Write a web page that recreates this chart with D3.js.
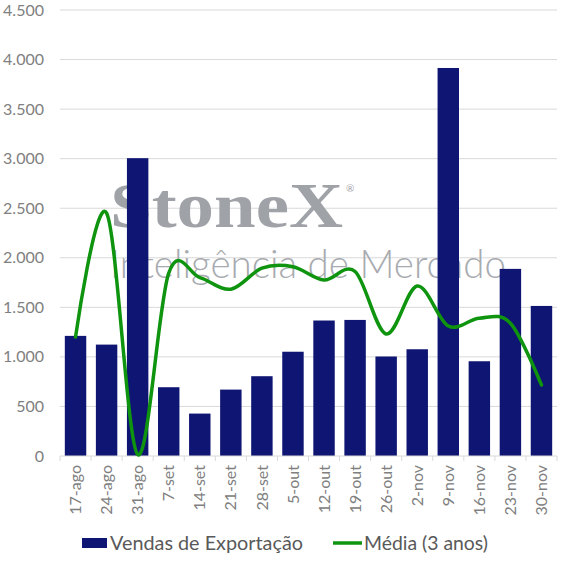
<!DOCTYPE html>
<html>
<head>
<meta charset="utf-8">
<script src="https://cdn.jsdelivr.net/npm/d3@7"></script>
<style>
  body { margin: 0; background: #fff; }
</style>
</head>
<body>
<script>
let width = 567,
  height = 567;

// data
const categories = ["17-ago", "24-ago", "31-ago", "7-set", "14-set", "21-set", "28-set", "5-out",
  "12-out", "19-out", "26-out", "2-nov", "9-nov", "16-nov", "23-nov", "30-nov"];
const vendas = [1212, 1124, 3005, 694, 428, 670, 805, 1052, 1367, 1373, 1004, 1077, 3915, 956, 1888, 1514];
const media = [1200, 2450, 15, 1845, 1800, 1683, 1895, 1910, 1776, 1862, 1231, 1715, 1312, 1390, 1340, 716];
const yTicks = [0, 500, 1000, 1500, 2000, 2500, 3000, 3500, 4000, 4500];

const barColor = "#0f1572",
  lineColor = "#0f940f",
  gridColor = "#d9d9d9",
  font = "Lato, 'Noto Sans', sans-serif";

let fmt = v => d3.format(",")(v).replace(/,/g, ".");

let svg = d3.select("body").append("svg")
  .attr("width", width)
  .attr("height", height)
  .style("font-family", font);

let x = d3.scaleBand()
  .domain(categories)
  .range([60, 557])
  .paddingInner(0.31)
  .paddingOuter(0.155);

let y = d3.scaleLinear()
  .domain([0, 4500])
  .range([456, 10]);

// gridlines
svg.append("g")
  .selectAll("line")
  .data(yTicks.slice(1))
  .enter().append("line")
  .attr("x1", 60).attr("x2", 557)
  .attr("y1", d => y(d)).attr("y2", d => y(d))
  .attr("stroke", gridColor)
  .attr("stroke-width", 1);

// y labels
svg.append("g")
  .selectAll("text")
  .data(yTicks)
  .enter().append("text")
  .attr("x", 44)
  .attr("y", d => y(d))
  .attr("dy", "0.35em")
  .attr("text-anchor", "end")
  .attr("font-size", 16)
  .attr("fill", "#808080")
  .text(fmt);

// watermark
let wm = svg.append("g").attr("fill", "#9fa2a7");
wm.append("text")
  .attr("x", 110).attr("y", 227)
  .style("font-family", "'Liberation Serif', 'DejaVu Serif', serif")
  .attr("font-weight", "bold")
  .attr("font-size", 63)
  .attr("textLength", 233)
  .attr("lengthAdjust", "spacingAndGlyphs")
  .text("StoneX");
wm.append("text")
  .attr("x", 346).attr("y", 192)
  .attr("font-size", 10)
  .text("®");
wm.append("text")
  .attr("x", 110).attr("y", 278)
  .attr("font-weight", 300)
  .attr("font-size", 40)
  .attr("fill", "#a8abb0")
  .attr("textLength", 396)
  .attr("lengthAdjust", "spacingAndGlyphs")
  .text("Inteligência de Mercado");

// bars
svg.append("g")
  .selectAll("rect")
  .data(vendas)
  .enter().append("rect")
  .attr("x", (d, i) => x(categories[i]))
  .attr("width", x.bandwidth())
  .attr("y", d => y(d))
  .attr("height", d => y(0) - y(d))
  .attr("fill", barColor);

// bottom axis line + ticks at band edges
svg.append("line")
  .attr("x1", 60).attr("x2", 557)
  .attr("y1", y(0)).attr("y2", y(0))
  .attr("stroke", gridColor);
svg.append("g")
  .selectAll("line")
  .data(d3.range(categories.length + 1))
  .enter().append("line")
  .attr("x1", i => 60 + i * x.step()).attr("x2", i => 60 + i * x.step())
  .attr("y1", y(0)).attr("y2", y(0) + 5)
  .attr("stroke", gridColor);

// x labels
svg.append("g")
  .selectAll("text")
  .data(categories)
  .enter().append("text")
  .attr("transform", d => `translate(${x(d) + x.bandwidth() / 2},465) rotate(-90)`)
  .attr("dy", "0.35em")
  .attr("text-anchor", "end")
  .attr("font-size", 16)
  .attr("fill", "#808080")
  .text(d => d);

// smoothed average line
let line = d3.line()
  .x((d, i) => x(categories[i]) + x.bandwidth() / 2)
  .y(d => y(d))
  .curve(d3.curveCatmullRom.alpha(0));

svg.append("path")
  .datum(media)
  .attr("d", line)
  .attr("fill", "none")
  .attr("stroke", lineColor)
  .attr("stroke-width", 3.5)
  .attr("stroke-linecap", "round");

// legend
let legend = svg.append("g");
legend.append("rect")
  .attr("x", 82).attr("y", 538)
  .attr("width", 25).attr("height", 10)
  .attr("fill", barColor);
legend.append("text")
  .attr("x", 110).attr("y", 543)
  .attr("dy", "0.35em")
  .attr("font-size", 19)
  .attr("fill", "#595959")
  .attr("textLength", 193)
  .attr("lengthAdjust", "spacingAndGlyphs")
  .text("Vendas de Exportação");
legend.append("line")
  .attr("x1", 333).attr("x2", 362)
  .attr("y1", 543).attr("y2", 543)
  .attr("stroke", lineColor)
  .attr("stroke-width", 3.5);
legend.append("text")
  .attr("x", 364).attr("y", 543)
  .attr("dy", "0.35em")
  .attr("font-size", 19)
  .attr("fill", "#595959")
  .attr("textLength", 124)
  .attr("lengthAdjust", "spacingAndGlyphs")
  .text("Média (3 anos)");
</script>
</body>
</html>
